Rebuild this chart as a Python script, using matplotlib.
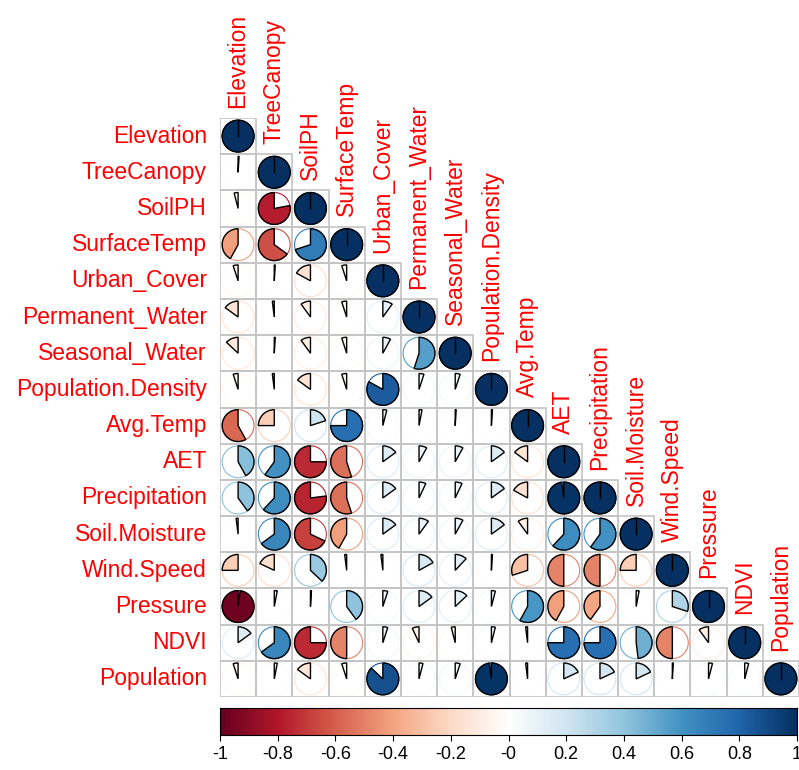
import matplotlib
matplotlib.use("Agg")
import matplotlib.pyplot as plt
from matplotlib.patches import Wedge, Circle, Rectangle
from matplotlib.colors import LinearSegmentedColormap
import numpy as np

plt.rcParams['font.family'] = ['Liberation Sans', 'DejaVu Sans']
plt.rcParams['axes.unicode_minus'] = False

# variable names, in the matrix order
labels = ["Elevation", "TreeCanopy", "SoilPH", "SurfaceTemp", "Urban_Cover",
          "Permanent_Water", "Seasonal_Water", "Population.Density", "Avg.Temp",
          "AET", "Precipitation", "Soil.Moisture", "Wind.Speed", "Pressure",
          "NDVI", "Population"]

# lower triangle, row i holds correlations with columns 0..i-1
row_treecanopy = [0.01]
row_soilph = [-0.04, -0.78]
row_surfacetemp = [-0.42, -0.65, 0.70]
row_urban = [-0.05, 0.01, -0.17, -0.05]
row_permwater = [-0.15, -0.02, -0.10, -0.05, 0.10]
row_seaswater = [-0.13, 0.01, -0.10, -0.05, 0.08, 0.55]
row_popdens = [-0.05, -0.02, -0.15, -0.05, 0.83, 0.05, 0.05]
row_avgtemp = [-0.58, -0.25, 0.20, 0.75, 0.04, 0.03, 0.01, 0.01]
row_aet = [0.42, 0.60, -0.75, -0.55, 0.15, 0.08, 0.08, 0.15, -0.15]
row_precip = [0.40, 0.62, -0.77, -0.55, 0.15, 0.07, 0.07, 0.15, -0.17, 0.98]
row_soilmoist = [-0.02, 0.65, -0.68, -0.42, 0.15, 0.10, 0.08, 0.15, -0.10, 0.62, 0.60]
row_windspeed = [-0.25, -0.18, 0.37, -0.02, -0.02, 0.17, 0.12, 0.01, -0.30, -0.50, -0.50, -0.25]
row_pressure = [-0.98, 0.03, 0.01, 0.40, 0.05, 0.15, 0.13, 0.04, 0.58, -0.42, -0.40, 0.03, 0.30]
row_ndvi = [0.15, 0.65, -0.75, -0.50, 0.05, -0.07, -0.04, 0.04, -0.02, 0.75, 0.75, 0.48, -0.50, -0.10]
row_population = [-0.05, 0.03, -0.15, -0.05, 0.87, 0.04, 0.05, 0.98, -0.02, 0.18, 0.18, 0.18, 0.01, 0.04, 0.04]

lower_rows = [row_treecanopy, row_soilph, row_surfacetemp, row_urban, row_permwater,
              row_seaswater, row_popdens, row_avgtemp, row_aet, row_precip,
              row_soilmoist, row_windspeed, row_pressure, row_ndvi, row_population]

n = len(labels)
corr = np.eye(n)
for i, row in enumerate(lower_rows, start=1):
    for j, v in enumerate(row):
        corr[i, j] = v
        corr[j, i] = v

rdbu = ["#67001F", "#B2182B", "#D6604D", "#F4A582", "#FDDBC7", "#FFFFFF",
        "#D1E5F0", "#92C5DE", "#4393C3", "#2166AC", "#053061"]
cmap = LinearSegmentedColormap.from_list("corr", rdbu, N=200)
norm = plt.Normalize(-1, 1)

fig = plt.figure(figsize=(7.99, 7.70), dpi=100)
ax = fig.add_axes([220 / 799, 73 / 770, 579 / 799, 579 / 770])
ax.set_xlim(-0.5, n - 0.5)
ax.set_ylim(-0.5, n - 0.5)
ax.axis("off")

R = 0.44
for i in range(n):
    y = n - 1 - i
    for j in range(i + 1):
        ax.add_patch(Rectangle((j - 0.5, y - 0.5), 1, 1, fill=False,
                               edgecolor="#C4C4C4", lw=1.2))
        r = corr[i, j]
        col = cmap(norm(r))
        ax.add_patch(Circle((j, y), R, fill=False, edgecolor=col, lw=0.8))
        ang = 360 * abs(r)
        if r >= 0:
            t1, t2 = 90 - ang, 90
        else:
            t1, t2 = 90, 90 + ang
        ax.add_patch(Wedge((j, y), R, t1, t2, facecolor=col,
                           edgecolor="black", lw=1.0))
        if abs(r) > 0.999:
            ax.plot([j, j], [y, y + R], color="black", lw=1.0)

for i, lab in enumerate(labels):
    y = n - 1 - i
    ax.text(-0.5 - 0.36, y, lab, ha="right", va="center", color="red",
            fontsize=16.5)
    ax.text(i, y + 0.5 + 0.28, lab, ha="center", va="bottom", rotation=90,
            color="red", fontsize=16.5)

# colour legend
cax = fig.add_axes([220 / 799, 35 / 770, 577 / 799, 27 / 770])
grad = np.linspace(-1, 1, 400).reshape(1, -1)
cax.imshow(grad, cmap=cmap, norm=norm, aspect="auto", extent=(-1, 1, 0, 1))
ticks = np.round(np.arange(-1, 1.01, 0.2), 1)
cax.set_xticks(ticks)
cax.set_xticklabels(["%g" % t for t in ticks])
cax.set_yticks([])
cax.tick_params(axis="x", direction="out", length=4, labelsize=13, pad=4)
for s in cax.spines.values():
    s.set_linewidth(0.8)

fig.savefig("out.png", dpi=100)
